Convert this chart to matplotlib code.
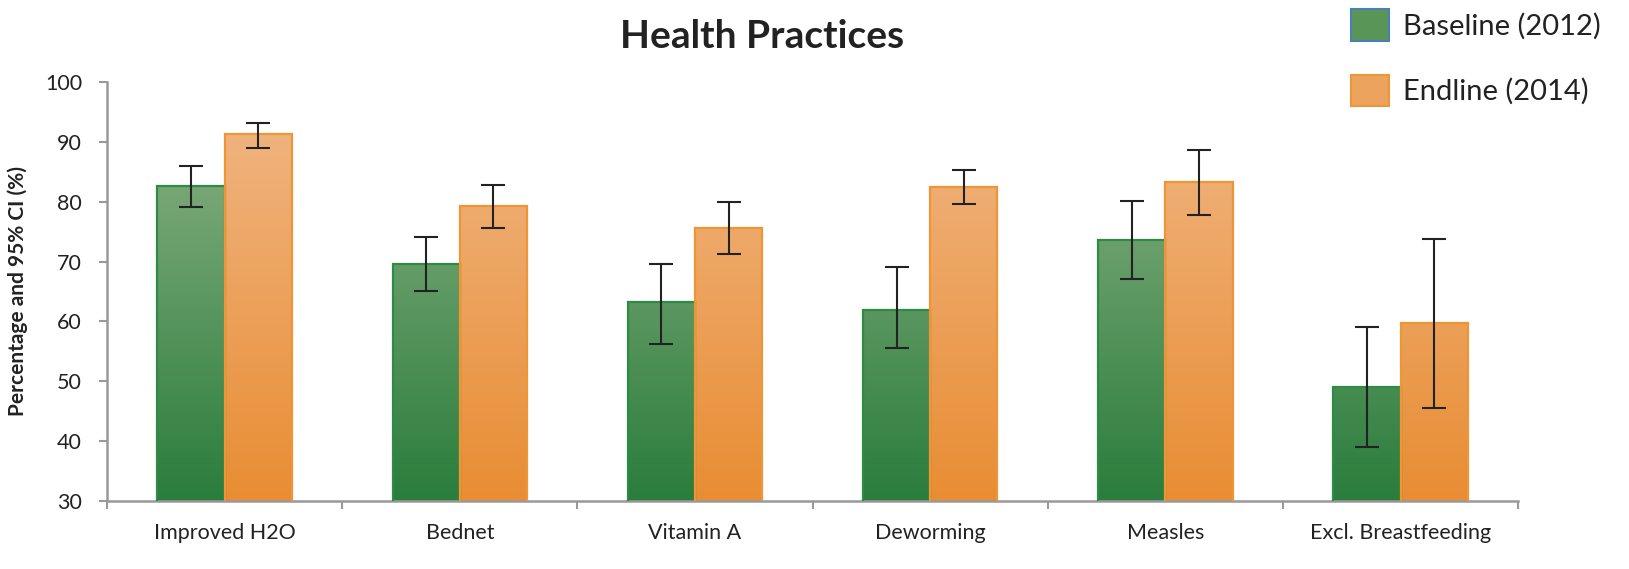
import numpy as np
import matplotlib.pyplot as plt
from matplotlib.patches import Patch
from matplotlib.colors import LinearSegmentedColormap

plt.rcParams['font.family'] = ['Lato', 'DejaVu Sans']

categories = ['Improved H2O', 'Bednet', 'Vitamin A', 'Deworming', 'Measles', 'Excl. Breastfeeding']
baseline = [82.6, 69.6, 63.2, 61.9, 73.6, 49.0]
baseline_lo = [79.1, 65.1, 56.2, 55.6, 67.1, 39.0]
baseline_hi = [86.0, 74.1, 69.6, 69.1, 80.1, 59.1]
endline = [91.3, 79.3, 75.6, 82.5, 83.3, 59.7]
endline_lo = [89.0, 75.6, 71.3, 79.6, 77.8, 45.5]
endline_hi = [93.1, 82.8, 80.0, 85.3, 88.6, 73.8]

green_cmap = LinearSegmentedColormap.from_list('g', ['#2a7d3c', '#86ae80'])
orange_cmap = LinearSegmentedColormap.from_list('o', ['#e88d33', '#f0b37e'])

fig = plt.figure(figsize=(16.29, 5.69), dpi=100)
ax = fig.add_axes([0.0657, 0.1195, 0.8663, 0.7365])

x = np.arange(len(categories))
w = 0.286
grad = np.linspace(0, 1, 256).reshape(-1, 1)


def gradient_bars(xpos, vals, cmap, edge):
    bars = ax.bar(xpos, vals, w, bottom=0, color='none', edgecolor=edge, linewidth=1.6, zorder=3)
    for b in bars:
        x0 = b.get_x()
        im = ax.imshow(grad, cmap=cmap, aspect='auto', origin='lower',
                       extent=(x0, x0 + b.get_width(), 30, 92), zorder=2)
        im.set_clip_path(b)
    return bars


gradient_bars(x - w / 2, baseline, green_cmap, '#2e8a45')
gradient_bars(x + w / 2, endline, orange_cmap, '#ee9535')

b_err = [np.array(baseline) - np.array(baseline_lo), np.array(baseline_hi) - np.array(baseline)]
e_err = [np.array(endline) - np.array(endline_lo), np.array(endline_hi) - np.array(endline)]
ax.errorbar(x - w / 2, baseline, yerr=b_err, fmt='none', ecolor='#222222', elinewidth=1.5,
            capsize=8.5, capthick=1.5, zorder=4)
ax.errorbar(x + w / 2, endline, yerr=e_err, fmt='none', ecolor='#222222', elinewidth=1.5,
            capsize=8.5, capthick=1.5, zorder=4)

ax.set_xlim(-0.5, len(categories) - 0.5)
ax.set_ylim(30, 100)
ax.set_yticks(range(30, 101, 10))
ax.set_xticks(x)
ax.set_xticklabels(categories, fontsize=15.5, color='#222222')
ax.set_xticks(np.arange(-0.5, len(categories)), minor=True)
ax.tick_params(axis='x', which='major', length=0, pad=16)
ax.tick_params(axis='x', which='minor', length=6, width=1.5, color='#999999')
ax.tick_params(axis='y', length=6, width=1.5, color='#999999', labelsize=15.5, labelcolor='#222222', pad=12)

for s in ['top', 'right']:
    ax.spines[s].set_visible(False)
for s in ['left', 'bottom']:
    ax.spines[s].set_color('#999999')
    ax.spines[s].set_linewidth(1.8)

ax.set_ylabel('Percentage and 95% CI (%)', fontsize=15, fontweight='bold', color='#222222', labelpad=12)

fig.text(0.468, 0.935, 'Health Practices', ha='center', va='center', fontsize=28, fontweight='bold', color='#222222')

handles = [Patch(facecolor='#5a9558', edgecolor='#4a7fb5', linewidth=1.5, label='Baseline (2012)'),
           Patch(facecolor='#eba35e', edgecolor='#ee9535', linewidth=1.5, label='Endline (2014)')]
fig.legend(handles=handles, loc='upper left', bbox_to_anchor=(0.813, 1.03), frameon=False,
           fontsize=21, handlelength=1.3, handleheight=1.3, labelspacing=1.15, handletextpad=0.5,
           labelcolor='#222222')

fig.savefig('out.png', dpi=100)
